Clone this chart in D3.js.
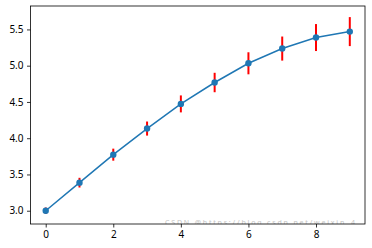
<!DOCTYPE html>
<html>
<head>
<meta charset="utf-8">
<script src="https://cdn.jsdelivr.net/npm/d3@7"></script>
<style>
  html, body { margin: 0; padding: 0; background: #fff; }
  svg { display: block; }
</style>
</head>
<body>
<svg id="chart" width="372" height="248"></svg>
<script>
const xValues = [0, 1, 2, 3, 4, 5, 6, 7, 8, 9];
const yValues = [3.0, 3.387, 3.773, 4.133, 4.473, 4.768, 5.033, 5.236, 5.388, 5.47];
const yErrors = [0.045, 0.067, 0.083, 0.097, 0.117, 0.134, 0.152, 0.166, 0.186, 0.2];
const xTicks = [0, 2, 4, 6, 8];
const yTicks = [3.0, 3.5, 4.0, 4.5, 5.0, 5.5];
const watermark = "CSDN @https://blog.csdn.net/weixin_4";

const W = 372, H = 248;
const m = { left: 30.5, right: 7, top: 6, bottom: 24 };
const svg = d3.select("#chart");

const x = d3.scaleLinear().domain([-0.45, 9.45]).range([m.left, W - m.right]);
const y = d3.scaleLinear().domain([2.817, 5.823]).range([H - m.bottom, m.top]);

const font = "'Noto Sans', 'DejaVu Sans', sans-serif";

// watermark (only its top part shows above the bottom spine)
svg.append("clipPath").attr("id", "wm").append("rect")
  .attr("x", 160).attr("y", 220).attr("width", 200).attr("height", 4);
svg.append("text")
  .attr("clip-path", "url(#wm)")
  .attr("x", 165).attr("y", 225)
  .attr("font-family", font).attr("font-size", 7)
  .attr("textLength", 190)
  .attr("fill", "#c4c4c4")
  .text(watermark);

const data = xValues.map((v, i) => ({ x: v, y: yValues[i], e: yErrors[i] }));

// error bars
svg.append("g").selectAll("line").data(data).join("line")
  .attr("x1", d => x(d.x)).attr("x2", d => x(d.x))
  .attr("y1", d => y(d.y - d.e)).attr("y2", d => y(d.y + d.e))
  .attr("stroke", "red").attr("stroke-width", 2);

// line
svg.append("path").datum(data)
  .attr("fill", "none").attr("stroke", "#1f77b4").attr("stroke-width", 1.5)
  .attr("d", d3.line().x(d => x(d.x)).y(d => y(d.y)));

// markers
svg.append("g").selectAll("circle").data(data).join("circle")
  .attr("cx", d => x(d.x)).attr("cy", d => y(d.y)).attr("r", 3.2)
  .attr("fill", "#1f77b4");

// axes
const xAxis = svg.append("g").attr("transform", `translate(0,${H - m.bottom})`)
  .call(d3.axisBottom(x).tickValues(xTicks).tickFormat(d3.format("d")).tickSizeOuter(0).tickSize(3.5).tickPadding(3.5));
const yAxis = svg.append("g").attr("transform", `translate(${m.left},0)`)
  .call(d3.axisLeft(y).tickValues(yTicks).tickFormat(d3.format(".1f")).tickSizeOuter(0).tickSize(3.5).tickPadding(3.5));

[xAxis, yAxis].forEach(a => {
  a.select(".domain").remove();
  a.selectAll(".tick line").attr("stroke", "#000").attr("stroke-width", 0.8);
  a.selectAll(".tick text").attr("font-family", font).attr("font-size", 10).attr("fill", "#000");
});

// frame
svg.append("rect")
  .attr("x", m.left).attr("y", m.top)
  .attr("width", W - m.right - m.left).attr("height", H - m.bottom - m.top)
  .attr("fill", "none").attr("stroke", "#000").attr("stroke-width", 0.8);
</script>
</body>
</html>
